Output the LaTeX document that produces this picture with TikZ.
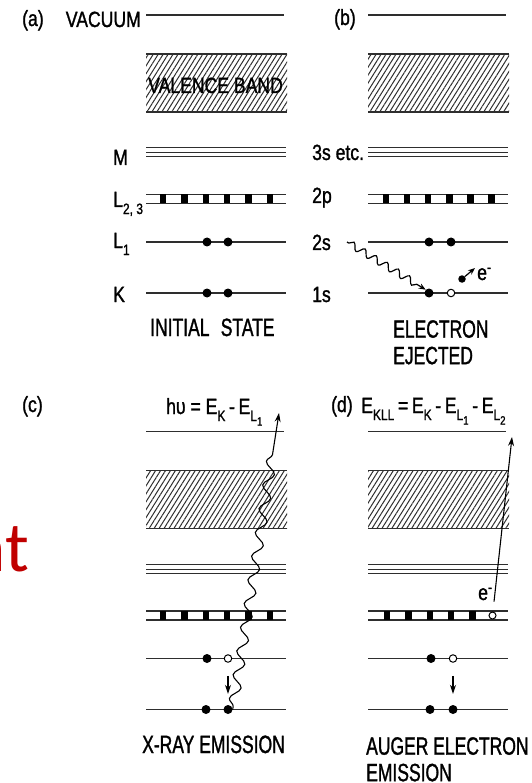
\documentclass[tikz,border=0pt]{standalone}
\usepackage{fontspec}
\setmainfont{Liberation Sans}[FakeStretch=0.8,FakeBold=1.2]
\newfontfamily\cond{Liberation Sans}[FakeStretch=0.7,FakeBold=1.2]
\newfontfamily\redfont{Carlito}
\usetikzlibrary{patterns.meta,decorations.pathmorphing,arrows.meta}
\definecolor{ink}{gray}{0.18}
\definecolor{slidered}{RGB}{192,0,0}
\newcommand\sbx[1]{\raisebox{-0.32em}{\fontsize{15}{15}\selectfont #1}}
\newcommand\ssbx[1]{\raisebox{-0.3em}{\fontsize{12}{12}\selectfont #1}}
\newcommand\panelbase{%
  \draw[lvl] (0,15) -- (138,15);
  \fill[band] (0,54) rectangle (141,112);
  \draw[edge] (0,54) -- (141,54) (0,112) -- (141,112);
  \draw[thinlvl] (0,148) -- (140,148) (0,152.5) -- (140,152.5) (0,157) -- (140,157);
  \draw[lvl] (0,194.5) -- (140,194.5) (0,203.5) -- (140,203.5);
  \draw[lvl] (0,242) -- (140,242);
  \draw[lvl] (0,293) -- (140,293);
}
\begin{document}
\begin{tikzpicture}[x=1pt,y=-1pt,
  lvl/.style={draw=ink, line width=1.4pt},
  thinlvl/.style={draw=ink, line width=1pt},
  band/.style={pattern={Lines[angle=58,distance=4.2pt,line width=1pt]}, pattern color=ink},
  edge/.style={draw=ink, line width=1.9pt},
  el/.style={circle, fill=black, inner sep=0pt, minimum size=9pt},
  hole/.style={circle, draw=black, fill=white, line width=1pt, inner sep=0pt, minimum size=7.5pt},
  sq/.style={rectangle, fill=black, inner sep=0pt, minimum width=6.5pt, minimum height=9pt},
  sqh/.style={circle, draw=black, fill=white, line width=1pt, inner sep=0pt, minimum size=7pt},
  lab/.style={inner sep=0pt, font=\fontsize{22}{24}\selectfont},
  big/.style={inner sep=0pt, font=\cond\fontsize{25}{26.5}\selectfont, align=left},
  arr/.style={draw=black, line width=1.1pt, -{Stealth[length=9pt,width=6pt]}},
  sarr/.style={draw=black, line width=1.2pt, -{Stealth[length=7pt,width=5.5pt]}},
  wavy/.style={sarr, decorate, decoration={snake, amplitude=3.5pt, segment length=13pt, pre length=2pt, post length=8pt}},
  wavyc/.style={arr, decorate, decoration={snake, amplitude=5pt, segment length=24pt, pre length=3pt, post length=40pt}}]
\useasboundingbox (0,0) rectangle (531,783);

% slide fragment
\node[anchor=base east, inner sep=0pt, text=slidered, font=\redfont\fontsize{71}{71}\selectfont] (rt) at (29,571) {nt};

% ---------- panel (a)
\begin{scope}[xshift=146pt]
  \panelbase
  \node[lab, anchor=base west] (ahdr) at (-124,26) {(a)};
  \node[lab, anchor=base east] (avac) at (-5,27) {VACUUM};
  \node[lab, anchor=base west] (aval) at (2,93) {VALENCE BAND};
  \node[lab, anchor=base west] (aM) at (-33,165) {M};
  \node[lab, anchor=base west] (aL23) at (-33,207) {L\sbx{2, 3}};
  \node[lab, anchor=base west] (aL1) at (-33,248) {L\sbx{1}};
  \node[lab, anchor=base west] (aK) at (-33,302) {K};
  \foreach \i in {1,...,6} \node[sq] (asq\i) at ({17+21.4*(\i-1)},199) {};
  \node[el] (aL1a) at (61,242) {};
  \node[el] (aL1b) at (82,242) {};
  \node[el] (aK1) at (61,293) {};
  \node[el] (aK2) at (82,293) {};
  \node[big, anchor=base west] (aini) at (4,336) {INITIAL\hspace{0.45em}STATE};
\end{scope}

% ---------- panel (b)
\begin{scope}[xshift=368pt]
  \panelbase
  \node[lab, anchor=base west] (bhdr) at (-34,25) {(b)};
  \node[lab, anchor=base west] (bM) at (-56,160) {3s etc.};
  \node[lab, anchor=base west] (bL23) at (-56,203) {2p};
  \node[lab, anchor=base west] (bL1) at (-56,250) {2s};
  \node[lab, anchor=base west] (bK) at (-56,302) {1s};
  \foreach \i in {1,...,6} \node[sq] (bsq\i) at ({18+21.1*(\i-1)},199) {};
  \node[el] (bL1a) at (61,242) {};
  \node[el] (bL1b) at (83,242) {};
  \node[el] (bK1) at (61,293) {};
  \node[hole] (bK2) at (83,293) {};
  \coordinate (bw) at (-21,242);
  \draw[wavy] (bw) -- (bK1.north west);
  \node[el, minimum size=7.5pt] (bej) at (94,279) {};
  \coordinate (bet) at (107,268);
  \draw[sarr] (bej) -- (bet);
  \node[lab, anchor=base west] (be) at (109,280) {e\textsuperscript{-}};
  \node[big, anchor=north west] (bcap) at (25,320) {ELECTRON\\EJECTED};
\end{scope}

% ---------- panel (c)
\begin{scope}[xshift=146pt, yshift=-416.5pt]
  \panelbase
  \foreach \i in {1,...,6} \node[sq] (csq\i) at ({17+21.4*(\i-1)},199) {};
  \node[el] (cL1a) at (61,242) {};
  \node[hole] (cL1b) at (82,242) {};
  \node[el] (cK1) at (60,293) {};
  \node[el] (cK2) at (82,293) {};
  \draw[arr, shorten <=13pt, shorten >=11pt] (cL1b) -- (cK2);
  \coordinate (ctop) at (133,-3.5);
  \draw[wavyc] (cK2.east) -- (ctop);
  \node[big, anchor=base west] (ccap) at (-4,336.5) {X-RAY EMISSION};
\end{scope}
\node[lab, anchor=base west] (chdr) at (22,412) {(c)};
\node[lab, anchor=base west] (cform) at (166,414) {hυ = E\sbx{K}\,-\,E\sbx{L\ssbx{1}}};

% ---------- panel (d)
\begin{scope}[xshift=368pt, yshift=-416.5pt]
  \panelbase
  \foreach \i in {1,...,5} \node[sq] (dsq\i) at ({19+21.4*(\i-1)},199) {};
  \node[sqh] (dsq6) at (124.5,199) {};
  \node[el] (dL1a) at (63,242) {};
  \node[hole] (dL1b) at (85,242) {};
  \node[el] (dK1) at (62,293) {};
  \node[el] (dK2) at (85,293) {};
  \draw[arr, shorten <=13pt, shorten >=11pt] (dL1b) -- (dK2);
  \coordinate (dtop) at (144,20.5);
  \draw[arr, shorten <=10pt] (dsq6) -- (dtop);
  \node[lab, anchor=base west] (de) at (110,183.5) {e\textsuperscript{-}};
  \node[big, anchor=north west] (dcap) at (-2,320.5) {AUGER ELECTRON\\EMISSION};
\end{scope}
\node[lab, anchor=base west] (dhdr) at (331,412) {(d)};
\node[lab, anchor=base west] (dform) at (361,413) {E\sbx{KLL}\,=\,E\sbx{K}\,-\,E\sbx{L\ssbx{1}}\,-\,E\sbx{L\ssbx{2}}};
\end{tikzpicture}
\end{document}
